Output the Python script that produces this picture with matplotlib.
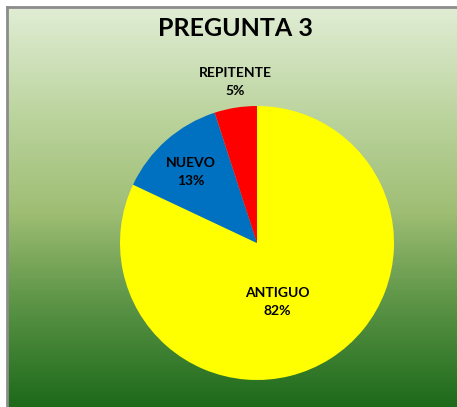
import matplotlib
matplotlib.use("Agg")
import matplotlib.pyplot as plt
import numpy as np
from matplotlib.colors import LinearSegmentedColormap

title = "PREGUNTA 3"
categories = ["ANTIGUO", "NUEVO", "REPITENTE"]
values = [82, 13, 5]
colors = ["#FFFF00", "#0070C0", "#FF0000"]

W, H = 457, 407
fig = plt.figure(figsize=(W / 100, H / 100), dpi=100)
fig.patch.set_facecolor("white")

# background gradient frame
x0, y0 = 7, 7
bg = fig.add_axes([x0 / W, 0, (W - x0) / W, (H - y0) / H])
cmap = LinearSegmentedColormap.from_list(
    "g",
    [(0.0, "#e0edd4"), (0.28, "#bad39c"), (0.51, "#9fbe74"), (0.73, "#5f9648"), (1.0, "#1d6a1a")],
)
grad = np.linspace(0, 1, 400).reshape(-1, 1)
bg.imshow(grad, aspect="auto", cmap=cmap, extent=[0, 1, 0, 1], origin="upper")
bg.set_xlim(0, 1)
bg.set_ylim(0, 1)
bg.set_xticks([])
bg.set_yticks([])
for s in ["right", "bottom"]:
    bg.spines[s].set_visible(False)
for s in ["left", "top"]:
    bg.spines[s].set_color("#8c8c8c")
    bg.spines[s].set_linewidth(2)

fig.text(235 / W, 1 - 29 / H, title, ha="center", va="center",
         fontsize=18, fontweight="bold", family="Lato", color="black")

# pie
cx, cy, r = 257, 243, 137
ax = fig.add_axes([(cx - r) / W, (H - cy - r) / H, 2 * r / W, 2 * r / H])
ax.pie(values, colors=colors, startangle=90, counterclock=False,
       wedgeprops=dict(linewidth=0))
ax.set_xlim(-1, 1)
ax.set_ylim(-1, 1)
ax.set_aspect("equal")
ax.axis("off")

label_pos = [(277, 302), (191, 172), (235, 82)]
for (lx, ly), cat, v in zip(label_pos, categories, values):
    tx = (lx - cx) / r
    ty = (cy - ly) / r
    ax.text(tx, ty, f"{cat}\n{v}%", ha="center", va="center", fontsize=10,
            fontweight="bold", family="Lato", color="black", linespacing=1.6,
            clip_on=False)

fig.savefig("out.png", dpi=100)
